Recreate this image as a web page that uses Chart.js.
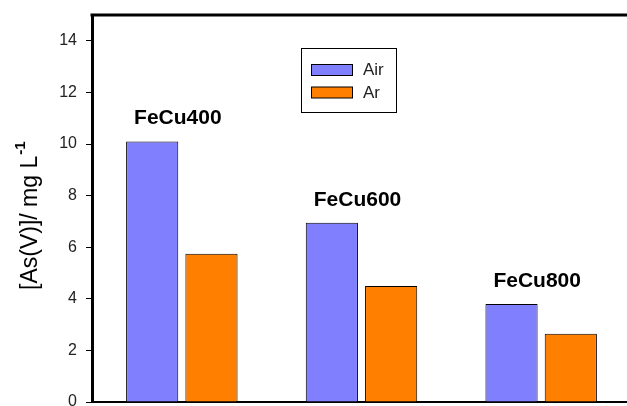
<!DOCTYPE html>
<html lang="en">
<head>
  <meta charset="UTF-8">
  <title>As(V) by sample</title>
  <script src="https://cdn.jsdelivr.net/npm/chart.js"></script>
  <style>
    html, body {
      margin: 0;
      padding: 0;
      overflow: hidden;
      background: #fff;
    }
    #wrap {
      width: 631px;
      height: 406px;
    }
  </style>
</head>
<body>
  <div id="wrap">
    <canvas id="asChart" width="631" height="406"></canvas>
  </div>

  <script>
    // data
    const samples = ['FeCu400', 'FeCu600', 'FeCu800'];
    const airValues = [10.1, 6.95, 3.8];
    const arValues = [5.75, 4.5, 2.65];
    const yTicks = [0, 2, 4, 6, 8, 10, 12, 14];

    const airColor = '#8080FF';
    const arColor = '#FF8000';
    const fontFam = 'Arial, "Liberation Sans", sans-serif';

    // draws the frame top, sample labels, legend box and y title
    const extras = {
      id: 'extras',
      afterDraw(chart) {
        const ctx = chart.ctx;
        const area = chart.chartArea;
        const xs = chart.scales.x;
        const ys = chart.scales.y;
        ctx.save();

        // top frame line
        ctx.strokeStyle = '#000';
        ctx.lineWidth = 3;
        ctx.beginPath();
        ctx.moveTo(area.left - 1.5, area.top);
        ctx.lineTo(chart.width, area.top);
        ctx.stroke();

        // sample names above each pair
        ctx.fillStyle = '#000';
        ctx.font = 'bold 21px ' + fontFam;
        ctx.textAlign = 'center';
        ctx.textBaseline = 'alphabetic';
        samples.forEach((name, i) => {
          const top = ys.getPixelForValue(Math.max(airValues[i], arValues[i]));
          ctx.fillText(name, xs.getPixelForValue(i) - 4, top - 17);
        });

        // legend
        ctx.lineWidth = 1;
        ctx.strokeStyle = '#000';
        ctx.strokeRect(301.5, 48.5, 95, 64);
        ctx.font = '17px ' + fontFam;
        ctx.textAlign = 'left';
        ctx.textBaseline = 'middle';
        chart.data.datasets.forEach((ds, i) => {
          const y = 64.5 + i * 22.5;
          ctx.fillStyle = ds.backgroundColor;
          ctx.fillRect(311.5, y, 41, 11);
          ctx.strokeRect(311.5, y, 41, 11);
          ctx.fillStyle = '#222';
          ctx.fillText(ds.label, 363, y + 6);
        });

        // y axis title with superscript
        ctx.translate(31, 290);
        ctx.rotate(-Math.PI / 2);
        ctx.fillStyle = '#000';
        ctx.font = '23px ' + fontFam;
        ctx.textBaseline = 'middle';
        const main = '[As(V)]/ mg L';
        ctx.fillText(main, 0, 0);
        const w = ctx.measureText(main).width;
        ctx.font = 'bold 15px ' + fontFam;
        ctx.fillText('-1', w + 1, -10);

        ctx.restore();
      }
    };

    new Chart(document.getElementById('asChart'), {
      type: 'bar',
      data: {
        labels: samples,
        datasets: [
          {
            label: 'Air',
            data: airValues,
            backgroundColor: airColor,
            borderColor: '#000',
            borderWidth: 1
          },
          {
            label: 'Ar',
            data: arValues,
            backgroundColor: arColor,
            borderColor: '#000',
            borderWidth: 1
          }
        ]
      },
      options: {
        responsive: false,
        animation: false,
        categoryPercentage: 0.66,
        barPercentage: 0.88,
        layout: { padding: { top: 15, bottom: 4, left: 0, right: 0 } },
        plugins: {
          legend: { display: false },
          tooltip: { enabled: false }
        },
        scales: {
          x: {
            grid: { display: false },
            ticks: { display: false },
            border: { color: '#000', width: 2 },
            afterFit(scale) { scale.height = 0; }
          },
          y: {
            min: 0,
            max: 15,
            afterBuildTicks(scale) {
              scale.ticks = yTicks.map(v => ({ value: v }));
            },
            afterFit(scale) {
              scale.width = 92;
              scale.paddingTop = 0;
              scale.paddingBottom = 0;
            },
            grid: {
              drawOnChartArea: false,
              drawTicks: true,
              tickLength: 6,
              color: '#000'
            },
            border: { color: '#000', width: 3 },
            ticks: {
              padding: 9,
              color: '#222',
              font: { family: fontFam, size: 16 }
            }
          }
        }
      },
      plugins: [extras]
    });
  </script>
</body>
</html>
